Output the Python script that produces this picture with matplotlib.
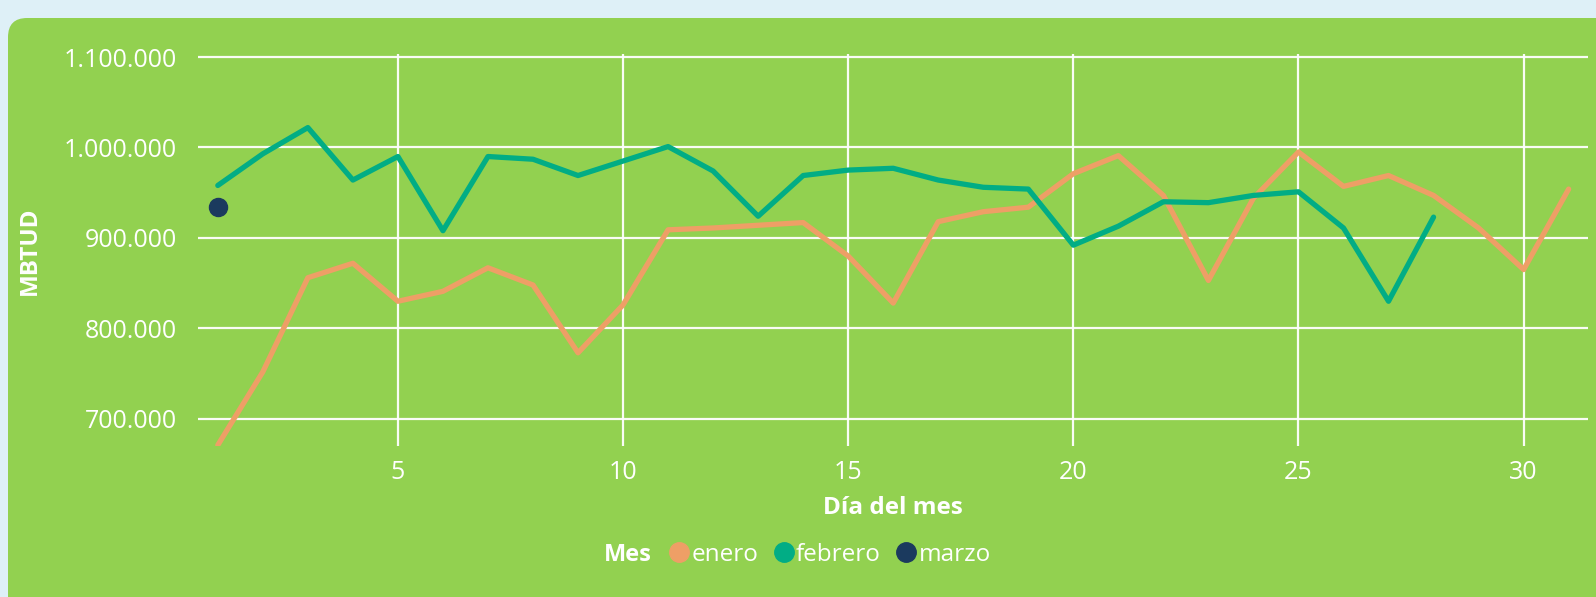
import matplotlib
matplotlib.use("Agg")
import matplotlib.pyplot as plt
from matplotlib.patches import FancyBboxPatch
from matplotlib.lines import Line2D
from matplotlib.ticker import FuncFormatter

plt.rcParams['font.family'] = ['Open Sans', 'DejaVu Sans']

dias_enero = list(range(1, 32))
enero = [671000, 752000, 856000, 872000, 830000, 841000, 867000, 848000, 773000, 826000,
         909000, 911000, 914000, 917000, 880000, 828000, 918000, 929000, 934000, 971000,
         991000, 947000, 853000, 944000, 995000, 957000, 969000, 947000, 911000, 865000,
         954000]
dias_febrero = list(range(1, 29))
febrero = [958000, 993000, 1022000, 964000, 990000, 908000, 990000, 987000, 969000, 985000,
           1001000, 974000, 924000, 969000, 975000, 977000, 964000, 956000, 954000, 892000,
           913000, 940000, 939000, 947000, 951000, 911000, 830000, 923000]
dias_marzo = [1]
marzo = [934000]

series = [("enero", dias_enero, enero, "#EE9F66"),
          ("febrero", dias_febrero, febrero, "#01AD85"),
          ("marzo", dias_marzo, marzo, "#1B3A5E")]

x_ticks = [5, 10, 15, 20, 25, 30]
y_ticks = [700000, 800000, 900000, 1000000, 1100000]

W, H = 1596, 597
fig = plt.figure(figsize=(W / 100, H / 100), dpi=100)
fig.patch.set_facecolor("#DEF0F7")

panel = FancyBboxPatch((8 / W, -40 / H), (W + 40) / W, (H - 18 + 40) / H,
                       boxstyle="round,pad=0,rounding_size=0.012",
                       transform=fig.transFigure, facecolor="#92D150",
                       edgecolor="none", zorder=-10, mutation_aspect=W / H)
fig.patches.append(panel)

ax = fig.add_axes([198 / W, 1 - 446 / H, (1588 - 198) / W, (446 - 54.3) / H])
ax.set_facecolor("none")
ax.set_zorder(5)
ax.set_xlim(0.56, 31.43)
ax.set_ylim(670000, 1103000)

for name, xs, ys, col in series:
    if len(xs) > 1:
        ax.plot(xs, ys, color=col, lw=3.8, solid_capstyle="round", solid_joinstyle="round", zorder=3)
    else:
        ax.plot(xs, ys, color=col, marker="o", ms=13, lw=0, zorder=4)

ax.set_xticks(x_ticks)
ax.set_yticks(y_ticks)
ax.yaxis.set_major_formatter(FuncFormatter(lambda v, p: f"{int(v):,}".replace(",", ".")))
ax.grid(True, color="white", lw=1.6, alpha=0.95)
ax.set_axisbelow(True)
for s in ax.spines.values():
    s.set_visible(False)
ax.tick_params(length=0, colors="white", labelsize=18)
ax.tick_params(axis="y", pad=15)
ax.tick_params(axis="x", pad=10)

ax.set_ylabel("MBTUD", color="white", fontsize=17.5, fontweight="bold")
ax.yaxis.set_label_coords(-0.112, 0.498)
ax.set_xlabel("Día del mes", color="white", fontsize=17.5, fontweight="bold", labelpad=8)

handles = [Line2D([], [], marker="o", lw=0, ms=14, color=c, label=n) for n, _, _, c in series]
leg = fig.legend(handles=handles, loc="center left", bbox_to_anchor=(672 / W, 1 - 555 / H),
                 ncol=3, frameon=False, fontsize=17.5, handlelength=0.6, handletextpad=0.2,
                 columnspacing=0.75, borderaxespad=0, borderpad=0)
for t in leg.get_texts():
    t.set_color("white")
fig.text(628 / W, 1 - 555 / H, "Mes", color="white", fontsize=17, fontweight="bold",
         ha="center", va="center")

fig.savefig("out.png", dpi=100, facecolor=fig.get_facecolor())
